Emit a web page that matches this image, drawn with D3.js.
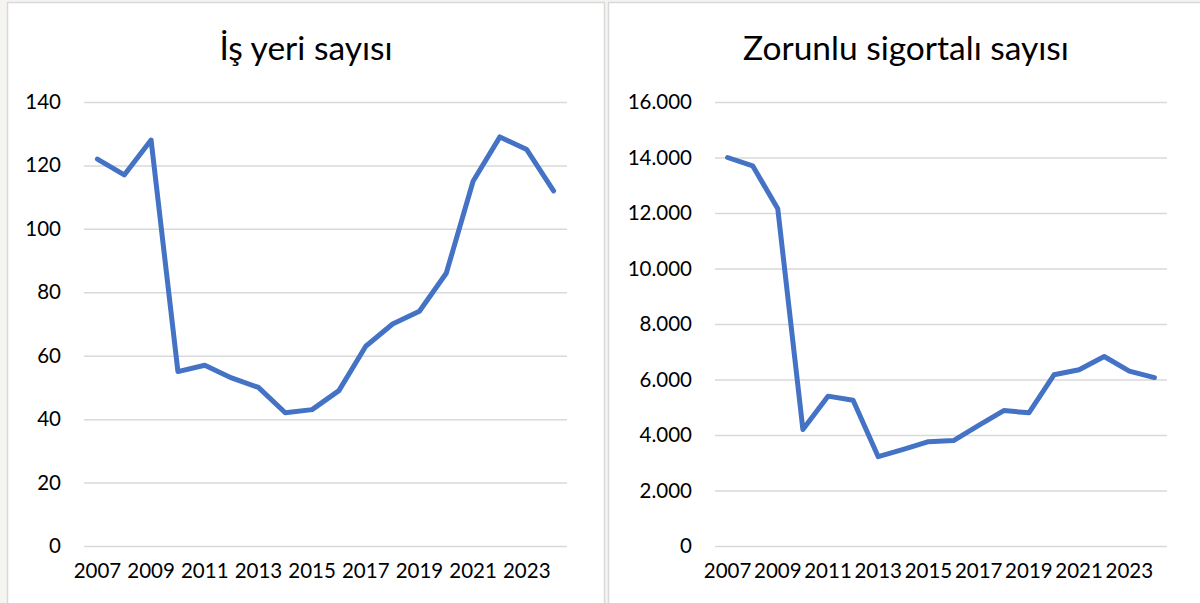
<!DOCTYPE html>
<html>
<head>
<meta charset="utf-8">
<script src="https://cdn.jsdelivr.net/npm/d3@7"></script>
<style>
  body { margin: 0; background: #f5f4f0; }
  svg { display: block; }
  text { font-family: Lato, "Open Sans", sans-serif; fill: #000; }
</style>
</head>
<body>
<div id="chart"></div>
<script>
// yillar
var years = [2007, 2008, 2009, 2010, 2011, 2012, 2013, 2014, 2015, 2016, 2017, 2018, 2019, 2020, 2021, 2022, 2023, 2024];
var year_labels = [2007, 2009, 2011, 2013, 2015, 2017, 2019, 2021, 2023];

// İş yeri sayısı
var is_yeri = [122, 117, 128, 55, 57, 53, 50, 42, 43, 49, 63, 70, 74, 86, 115, 129, 125, 112];
var is_yeri_ticks = [0, 20, 40, 60, 80, 100, 120, 140];

// Zorunlu sigortalı sayısı
var zorunlu = [14000, 13700, 12150, 4200, 5400, 5250, 3220, 3480, 3760, 3800, 4350, 4880, 4800, 6170, 6350, 6830, 6300, 6070];
var zorunlu_ticks = [0, 2000, 4000, 6000, 8000, 10000, 12000, 14000, 16000];

var chart_width = 1200;
var chart_height = 603;

var tr = d3.formatLocale({ decimal: ',', thousands: '.', grouping: [3], currency: ['', ' ₺'] });

var svg = d3.select('#chart')
    .append('svg')
    .attr('width', chart_width)
    .attr('height', chart_height)

//cerceveler
svg.append('rect')
    .attr('x', 7.5).attr('y', 2.5)
    .attr('width', 597).attr('height', 620)
    .attr('fill', '#fff').attr('stroke', '#d9d9d9').attr('stroke-width', 1.5)
svg.append('rect')
    .attr('x', 608.5).attr('y', 2.5)
    .attr('width', 620).attr('height', 620)
    .attr('fill', '#fff').attr('stroke', '#d9d9d9').attr('stroke-width', 1.5)

function draw(title, values, ticks, fmt, x0, x1, title_x) {
    var g = svg.append('g');

    var x_scale = d3.scaleBand()
        .domain(years)
        .range([x0, x1])
        .padding(0)

    var y_scale = d3.scaleLinear()
        .domain([0, d3.max(ticks)])
        .range([546, 102])

    // grid + y labels
    var y_axis = g.append('g')
        .attr('transform', 'translate(' + x0 + ',0)')
        .call(d3.axisLeft(y_scale)
            .tickValues(ticks)
            .tickFormat(fmt)
            .tickSizeInner(-(x1 - x0))
            .tickSizeOuter(0)
            .tickPadding(23))
    y_axis.select('.domain').remove()
    y_axis.selectAll('line')
        .attr('stroke', '#d9d9d9')
        .attr('stroke-width', 1.5)
    y_axis.selectAll('text')
        .attr('font-size', 20.5)
        .attr('font-family', 'Lato')
        .attr('fill', '#000')

    // x labels
    var x_axis = g.append('g')
        .attr('transform', 'translate(0,546)')
        .call(d3.axisBottom(x_scale)
            .tickValues(year_labels)
            .tickSize(0)
            .tickPadding(17))
    x_axis.select('.domain').remove()
    x_axis.selectAll('text')
        .attr('font-size', 20.5)
        .attr('font-family', 'Lato')
        .attr('fill', '#000')

    var line = d3.line()
        .x(function (d, i) { return x_scale(years[i]) + x_scale.bandwidth() / 2; })
        .y(function (d) { return y_scale(d); })

    g.append('path')
        .datum(values)
        .attr('d', line)
        .attr('fill', 'none')
        .attr('stroke', '#4472c4')
        .attr('stroke-width', 5)
        .attr('stroke-linejoin', 'round')
        .attr('stroke-linecap', 'round')

    g.append('text')
        .text(title)
        .attr('x', title_x)
        .attr('y', 60)
        .attr('text-anchor', 'middle')
        .attr('font-size', 33.5)
}

draw('İş yeri sayısı', is_yeri, is_yeri_ticks, d3.format('d'), 84, 567, 306)
draw('Zorunlu sigortalı sayısı', zorunlu, zorunlu_ticks, tr.format(',d'), 715, 1167, 906)
</script>
</body>
</html>
